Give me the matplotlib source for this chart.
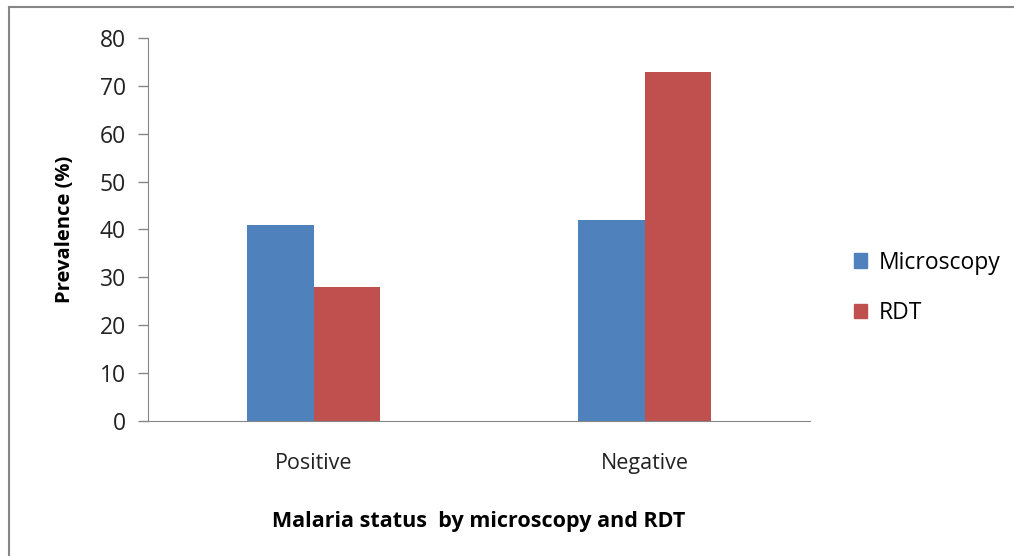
import matplotlib.pyplot as plt
import numpy as np
from matplotlib.lines import Line2D
from matplotlib.patches import Patch

categories = ["Positive", "Negative"]
microscopy = [41, 42]
rdt = [28, 73]
series_names = ["Microscopy", "RDT"]

blue = "#4f81bd"
red = "#c0504d"
grey = "#868686"

plt.rcParams['font.family'] = ['Open Sans', 'DejaVu Sans']

fig = plt.figure(figsize=(10.14, 5.56), dpi=100)
ax = fig.add_axes([148 / 1014, 1 - 421 / 556, 662 / 1014, 383 / 556])

x = np.arange(len(categories))
w = 0.2
ax.bar(x - w / 2, microscopy, w, color=blue)
ax.bar(x + w / 2, rdt, w, color=red)

ax.set_xlim(-0.5, 1.5)
ax.set_ylim(0, 80)
ax.set_yticks(range(0, 81, 10))
ax.set_xticks(x)
ax.set_xticklabels(categories, fontsize=15.5)
ax.tick_params(axis='x', length=0, pad=23, colors='#222222')
ax.tick_params(axis='y', length=7, width=1, color=grey, labelsize=16.5, pad=9, labelcolor='#222222')

for s in ['top', 'right']:
    ax.spines[s].set_visible(False)
for s in ['left', 'bottom']:
    ax.spines[s].set_color(grey)

ax.set_ylabel("Prevalence (%)", fontsize=14.5, fontweight='bold', labelpad=18)
ax.set_xlabel("Malaria status  by microscopy and RDT", fontsize=15.5, fontweight='bold', labelpad=27)

handles = [Patch(color=blue), Patch(color=red)]
fig.legend(handles, series_names, loc='center left', bbox_to_anchor=(833 / 1014, 1 - 288 / 556),
           frameon=False, fontsize=16.5, handlelength=0.6, handleheight=0.6,
           handletextpad=0.5, labelspacing=1.15)

# outer chart border (left and top visible)
fig.add_artist(Line2D([9 / 1014, 9 / 1014], [0, 1 - 7 / 556], transform=fig.transFigure, color=grey, lw=1.5))
fig.add_artist(Line2D([9 / 1014, 1], [1 - 7 / 556, 1 - 7 / 556], transform=fig.transFigure, color=grey, lw=1.5))

fig.savefig("out.png", dpi=100)
